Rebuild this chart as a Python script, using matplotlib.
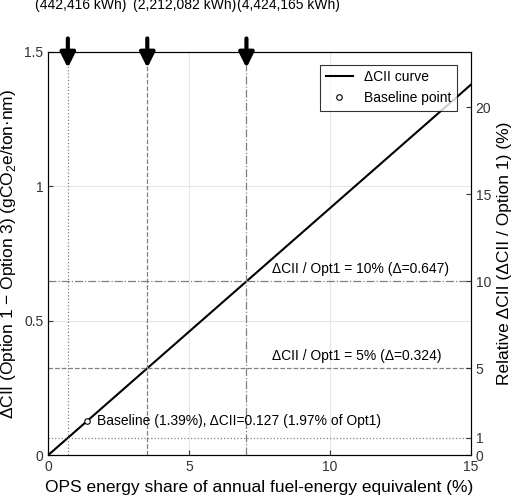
import matplotlib
matplotlib.use("Agg")
import matplotlib.pyplot as plt
import numpy as np

plt.rcParams['font.family'] = ['Liberation Sans', 'DejaVu Sans']
plt.rcParams['mathtext.fontset'] = 'custom'
plt.rcParams['mathtext.rm'] = 'Liberation Sans'
plt.rcParams['mathtext.bf'] = 'Liberation Sans:bold'

x_share = [0, 15]
dcii = [0, 1.377]
base_x, base_y = 1.39, 0.127
ops_x = [0.70, 3.52, 7.04]
ops_labels = ["0.70%", "3.52%", "7.04%"]
ops_kwh = ["(442,416 kWh)", "(2,212,082 kWh)", "(4,424,165 kWh)"]
ops_offsets = [-24, -10, -7]
ops_styles = [':', '--', '-.']
h_levels = [0.0647, 0.324, 0.647]
h_styles = [':', '--', '-.']
rel_scale = 10 / 0.647

fig = plt.figure(figsize=(5.23, 4.98), dpi=100)
ax = fig.add_axes([0.092, 0.086, 0.808, 0.810])
ax.plot(x_share, dcii, color='black', lw=1.5, label='ΔCII curve')
ax.plot([base_x], [base_y], 'o', mfc='white', mec='black', ms=4, mew=0.8, ls='none', label='Baseline point')
for xv, st in zip(ops_x, ops_styles):
    ax.axvline(xv, color='gray', ls=st, lw=0.9)
for yv, st in zip(h_levels, h_styles):
    ax.axhline(yv, color='gray', ls=st, lw=0.9)
ax.set_xlim(0, 15)
ax.set_ylim(0, 1.5)
ax.set_xticks([0, 5, 10, 15])
ax.set_yticks([0, 0.5, 1, 1.5])
ax.set_yticklabels(['0', '0.5', '1', '1.5'])
ax.grid(True, color='#e6e6e6', lw=0.8)
ax.set_axisbelow(True)
ax.tick_params(labelsize=10, direction='in', colors='#333333')
ax.set_xlabel('OPS energy share of annual fuel-energy equivalent (%)', fontsize=12.5)
ax.set_ylabel('ΔCII (Option 1 − Option 3) (gCO$_2$e/ton·nm)', fontsize=12.5)

ax2 = ax.twinx()
ax2.set_ylim(0, 1.5 * rel_scale)
ax2.set_yticks([0, 1, 5, 10, 15, 20])
ax2.tick_params(labelsize=10, direction='in', colors='#333333')
ax2.set_ylabel('Relative ΔCII (ΔCII / Option 1) (%)', fontsize=12.5)

ax.text(7.95, 0.665, 'ΔCII / Opt1 = 10% (Δ=0.647)', fontsize=10, va='bottom')
ax.text(7.95, 0.342, 'ΔCII / Opt1 = 5% (Δ=0.324)', fontsize=10, va='bottom')
ax.text(1.75, base_y, 'Baseline (1.39%), ΔCII=0.127 (1.97% of Opt1)', fontsize=10, va='center')

for xv, lab, kwh, off in zip(ops_x, ops_labels, ops_kwh, ops_offsets):
    ax.annotate('', xy=(xv, 1.43), xytext=(xv, 1.56), xycoords='data',
                arrowprops=dict(arrowstyle='-|>,head_width=0.45,head_length=0.9', color='black', lw=3),
                annotation_clip=False)
    ax.annotate('$\\mathrm{OPS}\\ \\mathbf{' + lab.replace('%', '\\%') + '}$', xy=(xv, 1.5),
                xytext=(off, 44), textcoords='offset points', fontsize=10, ha='left', va='bottom',
                annotation_clip=False)
    ax.annotate(kwh, xy=(xv, 1.5), xytext=(off, 29), textcoords='offset points',
                fontsize=10, ha='left', va='bottom', annotation_clip=False)

leg = ax.legend(loc='upper right', fontsize=10, fancybox=False, edgecolor='black', bbox_to_anchor=(0.985, 0.985))
leg.get_frame().set_linewidth(0.8)
fig.savefig('out.png', dpi=100)
